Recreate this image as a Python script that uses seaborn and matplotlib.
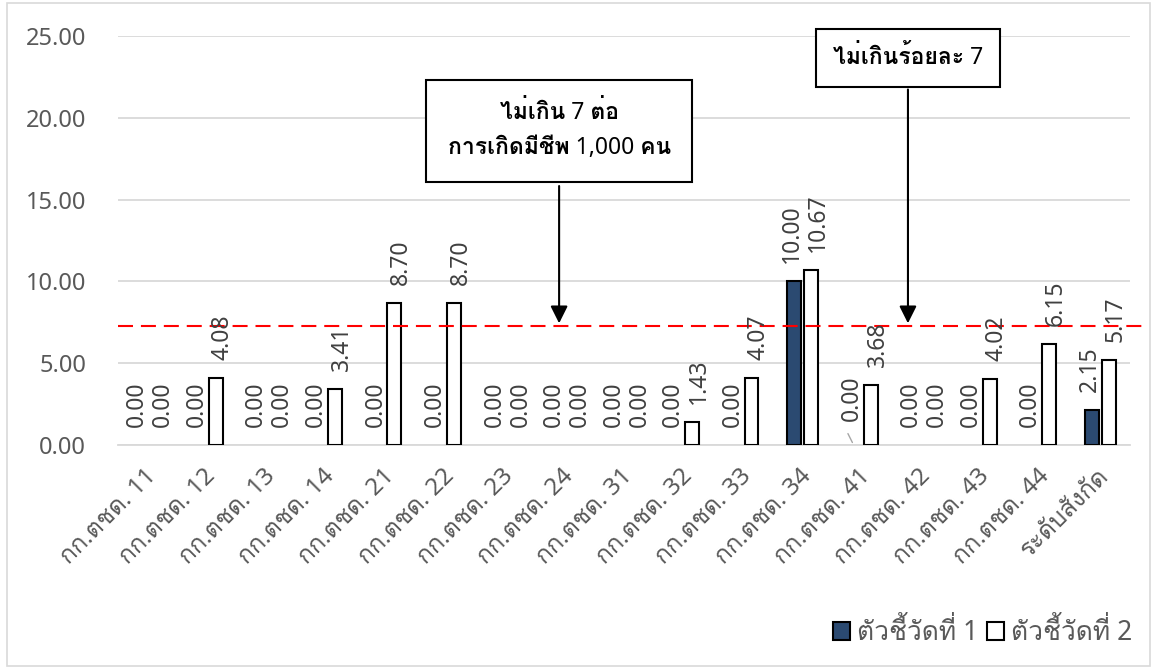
import numpy as np
import pandas as pd
import seaborn as sns
import matplotlib
matplotlib.use("Agg")
from matplotlib import pyplot as plt
from matplotlib.patches import Rectangle
from matplotlib.transforms import ScaledTranslation

categories = ["กก.ตชด. 11", "กก.ตชด. 12", "กก.ตชด. 13", "กก.ตชด. 14", "กก.ตชด. 21",
              "กก.ตชด. 22", "กก.ตชด. 23", "กก.ตชด. 24", "กก.ตชด. 31", "กก.ตชด. 32",
              "กก.ตชด. 33", "กก.ตชด. 34", "กก.ตชด. 41", "กก.ตชด. 42", "กก.ตชด. 43",
              "กก.ตชด. 44", "ระดับสังกัด"]
series_names = ["ตัวชี้วัดที่ 1", "ตัวชี้วัดที่ 2"]
indicator_1 = [0.00, 0.00, 0.00, 0.00, 0.00, 0.00, 0.00, 0.00, 0.00, 0.00,
               0.00, 10.00, 0.00, 0.00, 0.00, 0.00, 2.15]
indicator_2 = [0.00, 4.08, 0.00, 3.41, 8.70, 8.70, 0.00, 0.00, 0.00, 1.43,
               4.07, 10.67, 3.68, 0.00, 4.02, 6.15, 5.17]
target_line = 7.27
note_left = "ไม่เกิน 7 ต่อ\nการเกิดมีชีพ 1,000 คน"
note_right = "ไม่เกินร้อยละ 7"

df = pd.DataFrame({
    "cat": categories * 2,
    "value": indicator_1 + indicator_2,
    "series": [series_names[0]] * len(categories) + [series_names[1]] * len(categories),
})

sns.set_theme(style="white")
plt.rcParams["font.family"] = ["Noto Sans", "Loma", "Noto Sans Thai Looped", "DejaVu Sans"]

W, H = 1152, 669
fig = plt.figure(figsize=(W / 100, H / 100), dpi=100)
fig.patches.append(Rectangle((7 / W, 3 / H), 1143 / W, 663 / H, transform=fig.transFigure,
                             fill=False, edgecolor="#d9d9d9", linewidth=1.2))
ax = fig.add_axes([118 / W, 1 - 445 / H, 1012 / W, 409 / H])

sns.barplot(data=df, x="cat", y="value", hue="series", order=categories,
            hue_order=series_names, palette={series_names[0]: "#1f497d", series_names[1]: "white"},
            edgecolor="black", linewidth=1.5, width=0.57, gap=0.18, ax=ax, legend=True, zorder=3)

# empty bars show no outline
for cont in ax.containers:
    for bar in cont.patches:
        if bar.get_height() == 0:
            bar.set_linewidth(0)

ax.set_ylim(0, 25)
ax.set_xlim(-0.5, len(categories) - 0.5)
ax.set_yticks(np.arange(0, 26, 5))
ax.set_yticklabels([f"{v:.2f}" for v in np.arange(0, 26, 5)])
ax.yaxis.grid(True, color="#d9d9d9", linewidth=1.3, zorder=0)
ax.set_axisbelow(True)
for s in ["top", "right", "left"]:
    ax.spines[s].set_visible(False)
ax.spines["bottom"].set_color("#d9d9d9")
ax.spines["bottom"].set_linewidth(1.3)
ax.tick_params(axis="y", length=0, pad=23, labelsize=17, labelcolor="#595959")
ax.tick_params(axis="x", length=0, pad=20, labelsize=17.5, labelcolor="#595959")
nudge = ScaledTranslation(5 / 100, 0, fig.dpi_scale_trans)
for lab in ax.get_xticklabels():
    lab.set_rotation(45)
    lab.set_ha("right")
    lab.set_va("center")
    lab.set_rotation_mode("anchor")
    lab.set_transform(lab.get_transform() + nudge)
ax.set_xlabel("")
ax.set_ylabel("")

# data labels, rotated, above each bar
x_shift = [-2, 7]
for k, cont in enumerate(ax.containers):
    for i, (bar, val) in enumerate(zip(cont.patches, [indicator_1, indicator_2][k])):
        cx = bar.get_x() + bar.get_width() / 2
        top = bar.get_height()
        dy = 13
        if k == 0 and i == 12:
            # this label sits a little higher, with a short leader line
            dy = 17
            ax.annotate("", (cx, 0), xytext=(-5, 10), textcoords="offset points",
                        arrowprops=dict(arrowstyle="-", color="#a6a6a6", lw=1), zorder=5)
        ax.annotate(f"{val:.2f}", (cx, top), xytext=(x_shift[k] * 0.72, dy),
                    textcoords="offset points", rotation=90, ha="center", va="bottom",
                    fontsize=16.5, color="#404040", zorder=5)

# target line
ax.axhline(target_line, xmin=0, xmax=1.017, color="#ff0000", linewidth=1.5,
           dashes=(7.2, 3.8), clip_on=False, zorder=4)

# call-out boxes with arrows
box_style = dict(boxstyle="square,pad=0.95", facecolor="white", edgecolor="black", linewidth=1.5)
ax.annotate("", xy=(6.91, target_line), xytext=(6.91, 16.0),
            arrowprops=dict(arrowstyle="-|>", color="black", lw=1.5, mutation_scale=26), zorder=6)
ax.text(6.91, 19.2, note_left, ha="center", va="center", fontsize=16.5, fontweight="bold",
        color="black", bbox=box_style, linespacing=1.6, zorder=7)
ax.annotate("", xy=(12.77, target_line), xytext=(12.77, 21.9),
            arrowprops=dict(arrowstyle="-|>", color="black", lw=1.5, mutation_scale=26), zorder=6)
ax.text(12.77, 23.65, note_right, ha="center", va="center", fontsize=16.5, fontweight="bold",
        color="black", bbox=dict(box_style, boxstyle="square,pad=0.75"), zorder=7)

leg = ax.legend(loc="center right", bbox_to_anchor=(1156 / W, 1 - 633 / H),
                bbox_transform=fig.transFigure, ncol=2, frameon=False, fontsize=19,
                handlelength=0.65, handleheight=0.65, handletextpad=0.25, columnspacing=0.35,
                labelcolor="#595959")

fig.savefig("out.png", dpi=100)
